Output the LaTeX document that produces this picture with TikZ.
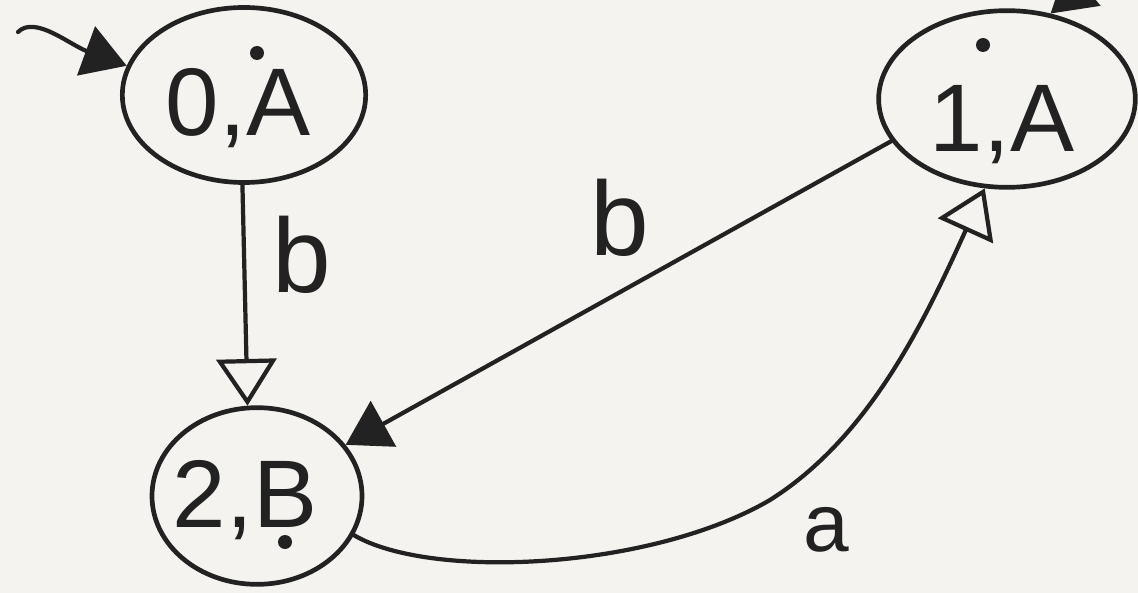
\documentclass[tikz,border=0pt]{standalone}
\usepackage{fontspec}
\setmainfont{Liberation Sans}
\usetikzlibrary{shapes.geometric,arrows.meta}
\definecolor{paper}{HTML}{F4F3EF}
\definecolor{ink}{HTML}{222222}
\tikzset{
  statebox/.style={ellipse, draw=ink, line width=4pt, inner sep=0pt},
  statetext/.style={text=ink, font=\fontsize{82}{86}\selectfont, inner sep=0pt},
  labeltext/.style={text=ink, font=\fontsize{90}{95}\selectfont, inner sep=0pt},
  edge/.style={draw=ink, line width=3.6pt, line cap=round},
  fulltip/.style={-{Triangle[length=1.3cm, width=1.55cm, fill=ink]}},
  opentip/.style={-{Triangle[open, length=1.4cm, width=1.8cm, line width=3.6pt]}},
  dotmark/.style={circle, fill=ink, inner sep=0pt, minimum size=0.42cm}
}
\begin{document}
\begin{tikzpicture}[x=0.03cm, y=-0.03cm]
\fill[paper] (0,0) rectangle (1138,593);
\useasboundingbox (0,0) rectangle (1138,593);
\clip (0,0) rectangle (1138,593);

\node[statebox, minimum width=7.3cm, minimum height=5.25cm] (A0) at (244,95) {};
\node[statebox, minimum width=7.7cm, minimum height=5.3cm] (A1) at (1007,99) {};
\node[statebox, minimum width=6.3cm, minimum height=5.3cm] (B2) at (257,496) {};

\node[statetext] (tA0) at (238,108) {0,A};
\node[statetext] (tA1) at (1002,125) {1,A};
\node[statetext] (tB2) at (245,500) {2,B};

\node[dotmark] (d0) at (257,53) {};
\node[dotmark] (d1) at (983,45) {};
\node[dotmark] (d2) at (285,542) {};

\coordinate (s0) at (18,32);
\coordinate (s1) at (1100,-28);
\coordinate (m) at (770,500);

\draw[edge, fulltip] (s0) .. controls (35,15) and (70,45) .. (A0.166);
\draw[edge, fulltip] (s1) -- (A1.63);
\draw[edge, opentip] (A0.-91) -- (B2.96);
\draw[edge, fulltip] (A1.200) -- (B2.30);
\draw[edge, opentip] (B2.-22) .. controls (430,580) and (650,570) .. (m)
   .. controls (870,437) and (925,320) .. (A1.-104);

\node[labeltext] (lb1) at (302,255) {b};
\node[labeltext] (lb2) at (620,218) {b};
\node[labeltext, font=\fontsize{70}{75}\selectfont] (la) at (826,530) {a};
\end{tikzpicture}
\end{document}
